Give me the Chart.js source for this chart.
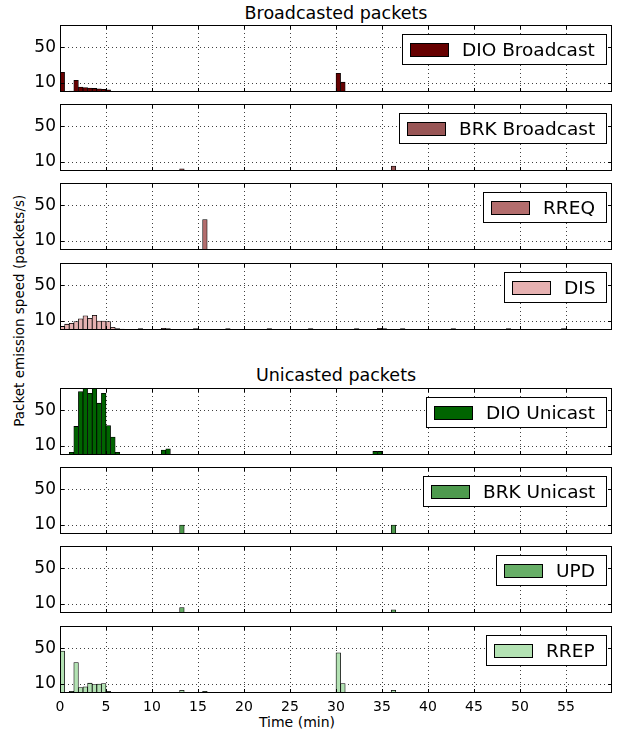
<!DOCTYPE html>
<html>
<head>
<meta charset="utf-8">
<script src="https://cdn.jsdelivr.net/npm/chart.js@4.4.1/dist/chart.umd.min.js"></script>
<style>
  html, body { margin: 0; padding: 0; background: #fff; }
  #fig { position: relative; width: 618px; height: 730px; overflow: hidden;
         font-family: "DejaVu Sans", sans-serif; color: #000; }
  #fig canvas { position: absolute; left: 0; }
  .txt { position: absolute; white-space: nowrap; line-height: 1; text-align: center; }
</style>
</head>
<body>
<div id="fig">
  <div class="txt" style="left:0; width:672px; top:5px; font-size:17.5px;">Broadcasted packets</div>
  <div class="txt" style="left:0; width:672px; top:367px; font-size:17.5px;">Unicasted packets</div>
  <div class="txt" style="left:-180px; width:400px; top:304px; font-size:13.5px; transform:rotate(-90deg);">Packet emission speed (packets/s)</div>
  <div class="txt" style="left:197px; width:200px; top:715px; font-size:14px;">Time (min)</div>
</div>
<script>
// ── DATA ──────────────────────────────────────────────────────────────────
// each series: [bin start (min), packets/s], 0.5 min bins, empty bins left out

const panelNames = ['DIO Broadcast', 'BRK Broadcast', 'RREQ', 'DIS',
                    'DIO Unicast', 'BRK Unicast', 'UPD', 'RREP'];

const dioBroadcast = [[0, 22], [1, 1], [1.5, 13], [2, 5.5], [2.5, 5], [3, 4.5],
                      [3.5, 4], [4, 3.5], [4.5, 3], [5, 2.5], [30, 21], [30.5, 11]];
const brkBroadcast = [[13, 2.5], [36, 5.5]];
const rreq         = [[15.5, 34]];
const dis          = [[0, 4], [0.5, 6.5], [1, 7.5], [1.5, 9.5], [2, 12.5], [2.5, 16],
                      [3, 13], [3.5, 16.5], [4, 10], [4.5, 10], [5, 9.5], [5.5, 3],
                      [6, 1.5], [6.5, 1], [8.5, 1.5], [11, 2], [11.5, 1.5], [14.5, 1.5],
                      [18, 1.5], [22.5, 1.5], [27, 1.5], [32, 1.5], [34.5, 2], [35, 1.5],
                      [37, 1.5], [42.5, 1.5], [48.5, 1.5], [54.5, 1.5]];
const dioUnicast   = [[1, 3], [1.5, 32], [2, 71], [2.5, 85], [3, 69], [3.5, 85],
                      [4, 58], [4.5, 69], [5, 33], [5.5, 20], [6, 3],
                      [11, 5.5], [11.5, 7], [34, 4], [34.5, 4]];
const brkUnicast   = [[13, 10], [36, 10]];
const upd          = [[13, 6], [36, 3.5]];
const rrep         = [[0, 47], [1, 2], [1.5, 34], [2, 6], [2.5, 7], [3, 11], [3.5, 9.5],
                      [4, 10], [4.5, 10.5], [5, 2], [13, 3], [15.5, 2],
                      [30, 45], [30.5, 10.5], [36, 3]];

const xTicks = [0, 5, 10, 15, 20, 25, 30, 35, 40, 45, 50, 55];
const yTicks = [10, 50];

const panelSeries = [dioBroadcast, brkBroadcast, rreq, dis, dioUnicast, brkUnicast, upd, rrep];
const panelColors = ['#660000', '#995656', '#b36d6d', '#e6b1b1',
                     '#006400', '#4e9a4e', '#67ae67', '#b3e2b3'];

// bin categories for the hidden bar axis (0, 0.5, ... 59.5)
const binStarts = [];
for (let i = 0; i < 120; i++) binStarts.push(i * 0.5);

// ── LAYOUT ────────────────────────────────────────────────────────────────

const panelTops = [25, 104, 183, 263, 388, 467, 546, 626];
const PANEL_H = 67, PAD = 16, XAXIS_H = 28;
const FONT = '"DejaVu Sans", sans-serif';

Chart.defaults.font.family = FONT;

const framePlugin = {
  id: 'frame',
  afterDatasetsDraw(chart, args, opts) {
    const ctx = chart.ctx, a = chart.chartArea;
    const xs = chart.scales.x, ys = chart.scales.y;
    ctx.save();
    ctx.strokeStyle = '#000';
    ctx.lineWidth = 1;
    // inward ticks
    ctx.beginPath();
    xTicks.forEach(function(v) {
      const px = Math.round(xs.getPixelForValue(v)) + 0.5;
      ctx.moveTo(px, a.top);    ctx.lineTo(px, a.top + 4);
      ctx.moveTo(px, a.bottom); ctx.lineTo(px, a.bottom - 4);
    });
    yTicks.forEach(function(v) {
      const py = Math.round(ys.getPixelForValue(v)) + 0.5;
      ctx.moveTo(a.left, py);  ctx.lineTo(a.left + 4, py);
      ctx.moveTo(a.right, py); ctx.lineTo(a.right - 4, py);
    });
    ctx.stroke();
    ctx.strokeRect(a.left + 0.5, a.top + 0.5, a.right - a.left - 1, a.bottom - a.top - 1);

    // legend box
    ctx.font = '18.5px ' + FONT;
    const tw = ctx.measureText(opts.label).width;
    const bw = Math.round(8 + 38 + 14 + tw + 11), bh = 30;
    const bx = Math.round(a.right - 6 - bw), by = a.top + 9;
    ctx.fillStyle = '#fff';
    ctx.fillRect(bx, by, bw, bh);
    ctx.strokeRect(bx + 0.5, by + 0.5, bw, bh);
    ctx.fillStyle = opts.color;
    ctx.fillRect(bx + 8, by + 9, 38, 13);
    ctx.strokeRect(bx + 8.5, by + 9.5, 38, 13);
    ctx.fillStyle = '#000';
    ctx.textBaseline = 'alphabetic';
    ctx.fillText(opts.label, bx + 60, by + 22);
    ctx.restore();
  }
};

const fig = document.getElementById('fig');

panelNames.forEach(function(name, i) {
  const isLast = i === panelNames.length - 1;
  const cv = document.createElement('canvas');
  const h = PAD + PANEL_H + (isLast ? XAXIS_H : PAD);
  cv.width = 618;
  cv.height = h;
  cv.style.top = (panelTops[i] - PAD) + 'px';
  cv.style.width = '618px';
  cv.style.height = h + 'px';
  fig.appendChild(cv);

  new Chart(cv, {
    type: 'bar',
    data: {
      labels: binStarts,
      datasets: [{
        data:               panelSeries[i].map(p => ({ x: p[0], y: p[1] })),
        xAxisID:            'bins',
        yAxisID:            'y',
        backgroundColor:    panelColors[i],
        borderColor:        '#000',
        borderWidth:        0.8,
        barPercentage:      1,
        categoryPercentage: 1
      }]
    },
    options: {
      responsive: false,
      animation:  false,
      layout: { padding: { top: PAD, bottom: isLast ? 0 : PAD, left: 0, right: 6 } },
      plugins: {
        legend:  { display: false },
        tooltip: { enabled: false },
        frame:   { label: name, color: panelColors[i] }
      },
      scales: {
        bins: { type: 'category', display: false, offset: true,
                ticks: { autoSkip: false } },
        x: {
          type: 'linear', position: 'bottom', min: 0, max: 60, offset: false,
          afterBuildTicks: s => { s.ticks = xTicks.map(v => ({ value: v })); },
          afterFit: s => { s.height = isLast ? XAXIS_H : 0; },
          grid:   { offset: false, color: 'rgba(0,0,0,0.75)', lineWidth: 1, drawTicks: false },
          border: { display: false, dash: [1, 3] },
          ticks:  { display: isLast, autoSkip: false, maxRotation: 0, padding: 6,
                    color: '#000', font: { size: 14 } }
        },
        y: {
          min: 0, max: 75,
          afterBuildTicks: s => { s.ticks = yTicks.map(v => ({ value: v })); },
          afterFit: s => { s.width = 60; },
          grid:   { color: 'rgba(0,0,0,0.75)', lineWidth: 1, drawTicks: false },
          border: { display: false, dash: [1, 3] },
          ticks:  { padding: 4, color: '#000', font: { size: 17 } }
        }
      }
    },
    plugins: [framePlugin]
  });
});
</script>
</body>
</html>
